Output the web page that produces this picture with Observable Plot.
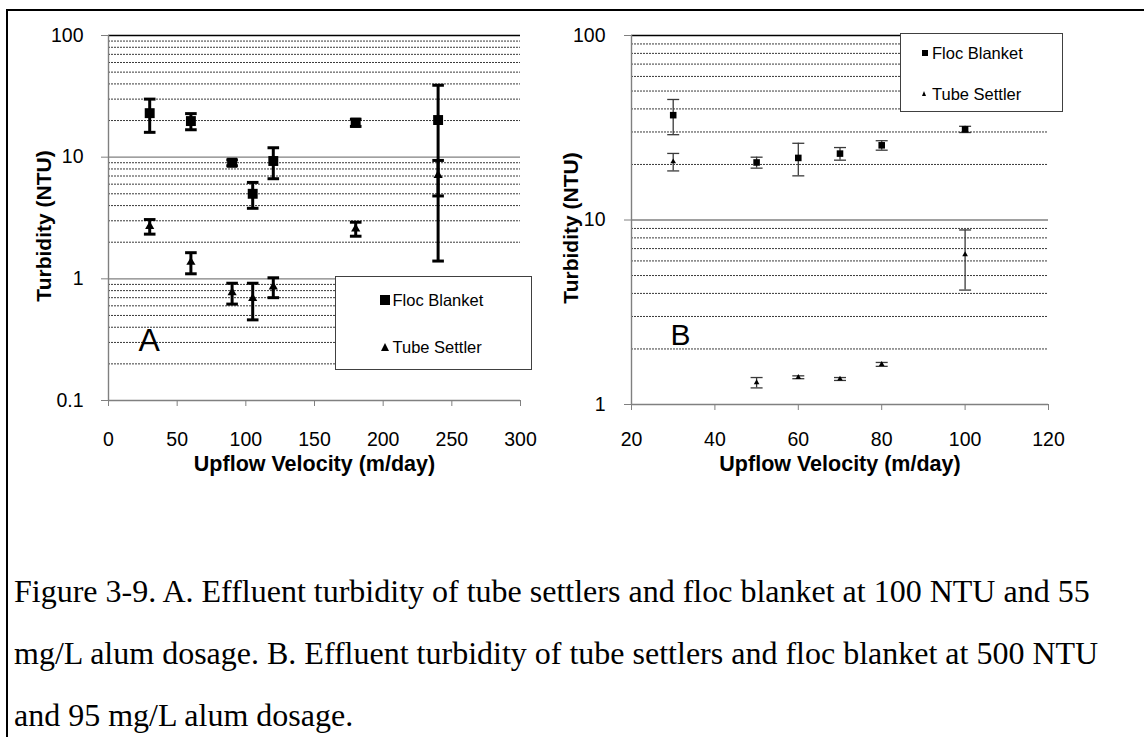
<!DOCTYPE html>
<html><head><meta charset="utf-8">
<script src="https://cdn.jsdelivr.net/npm/d3@7"></script>
<script src="https://cdn.jsdelivr.net/npm/@observablehq/plot@0.6"></script>
<style>
body{margin:0;background:#fff;}
#fig{position:relative;width:1144px;height:737px;overflow:hidden;background:#fff;font-family:"Liberation Sans",Arial,sans-serif;}
.abs{position:absolute;}
.legend{position:absolute;background:#fff;border:1px solid #404040;box-sizing:border-box;}
.lg{position:absolute;font-size:16.5px;line-height:16.5px;white-space:nowrap;color:#000;}
.sq{position:absolute;background:#000;}
.tri{position:absolute;width:0;height:0;border-style:solid;border-color:transparent transparent #000 transparent;}
.cap{position:absolute;left:14px;font-family:"Liberation Serif","Times New Roman",serif;font-size:32px;line-height:32px;white-space:nowrap;color:#000;}
</style></head><body><div id="fig"></div><script>
// ---------- data ----------
const velocityA = [30, 60, 90, 105, 120, 180, 240];
const flocA     = [23.0, 19.8, 9.0, 5.0, 9.3, 19.2, 20.2];
const flocErrA  = [7.0, 3.0, 0.5, 1.2, 2.65, 1.3, 18.8];
const tubeA     = [2.7, 1.37, 0.77, 0.69, 0.86, 2.58, 7.1];
const tubeErrA  = [0.37, 0.27, 0.15, 0.23, 0.16, 0.34, 2.3];

const velocityB = [30, 50, 60, 70, 80, 100];
const flocB     = [37.0, 20.5, 21.7, 22.9, 25.4, 31.0];
const flocErrB  = [8.0, 1.4, 4.35, 1.8, 1.5, 1.2];
const tubeB     = [20.7, 1.315, 1.405, 1.375, 1.65, 6.5];
const tubeErrB  = [2.25, 0.085, 0.025, 0.025, 0.04, 2.33];

const xTicksA = [0, 50, 100, 150, 200, 250, 300];
const yTicksA = [0.1, 1, 10, 100];
const minorA  = [0.2,0.3,0.4,0.5,0.6,0.7,0.8,0.9,2,3,4,5,6,7,8,9,20,30,40,50,60,70,80,90];
const xTicksB = [20, 40, 60, 80, 100, 120];
const yTicksB = [1, 10, 100];
const minorB  = [2,3,4,5,6,7,8,9,20,30,40,50,60,70,80,90];

const seriesNames = ["Floc Blanket", "Tube Settler"];
const xTitle = "Upflow Velocity (m/day)";
const yTitle = "Turbidity (NTU)";
const captionLines = [
  "Figure 3-9. A. Effluent turbidity of tube settlers and floc blanket at 100 NTU and 55",
  "mg/L alum dosage. B. Effluent turbidity of tube settlers and floc blanket at 500 NTU",
  "and 95 mg/L alum dosage."
];

// ---------- drawing ----------
const capSymbol = {draw(ctx, size){ const r = Math.sqrt(size/Math.PI); ctx.moveTo(-r,0); ctx.lineTo(r,0); }};
const rows = (xs, ys, es) => xs.map((x,i)=>({x, y:ys[i], e:es[i]}));

function panel(o){
  const F = rows(o.vel, o.floc, o.flocErr);
  const T = rows(o.vel, o.tube, o.tubeErr);
  const errMarks = (R) => [
    Plot.ruleX(R, {x:"x", y1:d=>d.y-d.e, y2:d=>d.y+d.e, stroke:o.errColor, strokeWidth:o.errWidth}),
    Plot.dot(R, {x:"x", y:d=>d.y+d.e, symbol:capSymbol, r:o.capR, fill:"none", stroke:o.errColor, strokeWidth:o.errWidth}),
    Plot.dot(R, {x:"x", y:d=>d.y-d.e, symbol:capSymbol, r:o.capR, fill:"none", stroke:o.errColor, strokeWidth:o.errWidth})
  ];
  return Plot.plot({
    width:o.width, height:o.height,
    marginLeft:o.ml, marginRight:o.mr, marginTop:o.mt, marginBottom:o.mb,
    x:{domain:o.xDomain},
    y:{type:"log", domain:o.yDomain},
    style:{fontFamily:"'Liberation Sans', Arial, sans-serif", fontSize:"19.5px", background:"transparent", overflow:"visible", color:"#000"},
    marks:[
      Plot.ruleY(o.minor, {stroke:"#3a3a3a", strokeWidth:1, strokeDasharray:"2,1"}),
      Plot.ruleY(o.major, {stroke:"#808080", strokeWidth:1.4}),
      Plot.ruleY([o.yDomain[1]], {stroke:"#000", strokeWidth:1.6}),
      Plot.ruleX([o.xDomain[0]], {stroke:"#808080", strokeWidth:1.4}),
      Plot.axisY({ticks:o.yTicks, tickSize:7, tickPadding:o.yPad, stroke:"#808080", tickFormat:d=>String(d), label:null}),
      Plot.axisX({ticks:o.xTicks, tickSize:6, tickPadding:o.xPad, stroke:"#808080", tickFormat:d=>String(d), label:null}),
      ...errMarks(F), ...errMarks(T),
      Plot.dot(F, {x:"x", y:"y", symbol:"square", r:o.sqR, fill:"#000", stroke:"none"}),
      Plot.dot(T, {x:"x", y:"y", symbol:"triangle", r:o.triR, fill:"#000", stroke:"none"}),
      Plot.text([yTitle], {text:d=>d, frameAnchor:"left", rotate:-90, dx:o.yTitleDx, dy:8, textAnchor:"middle", fontWeight:"bold", fontSize:21}),
      Plot.text([xTitle], {text:d=>d, frameAnchor:"bottom", dy:o.xTitleDy, textAnchor:"middle", fontWeight:"bold", fontSize:21.5}),
      Plot.text([o.letter], {text:d=>d, frameAnchor:"bottom-left", dx:o.letterDx, dy:o.letterDy, textAnchor:"start", fontSize:o.letterSize})
    ]
  });
}

const fig = document.getElementById("fig");

const svgA = panel({
  vel:velocityA, floc:flocA, flocErr:flocErrA, tube:tubeA, tubeErr:tubeErrA,
  width:572, height:480, ml:108, mr:52, mt:35, mb:80,
  xDomain:[0,300], yDomain:[0.1,100], xTicks:xTicksA, yTicks:yTicksA,
  minor:minorA, major:[0.1,1,10], yPad:18, xPad:26,
  errColor:"#000", errWidth:3, capR:5.8, sqR:5.6, triR:3.4,
  yTitleDx:-64, xTitleDy:70, letter:"A", letterDx:30, letterDy:-50, letterSize:32
});
svgA.style.position = "absolute"; svgA.style.left = "0px"; svgA.style.top = "0px";
fig.appendChild(svgA);

const svgB = panel({
  vel:velocityB, floc:flocB, flocErr:flocErrB, tube:tubeB, tubeErr:tubeErrB,
  width:572, height:480, ml:59, mr:96, mt:35, mb:76,
  xDomain:[20,120], yDomain:[1,100], xTicks:xTicksB, yTicks:yTicksB,
  minor:minorB, major:[1,10], yPad:19, xPad:22,
  errColor:"#3a3a3a", errWidth:1.3, capR:6, sqR:3.7, triR:2.1,
  yTitleDx:-60, xTitleDy:66, letter:"B", letterDx:39, letterDy:-60, letterSize:30
});
svgB.style.position = "absolute"; svgB.style.left = "572px"; svgB.style.top = "0px";
fig.appendChild(svgB);

// legends
function legend(box, items){
  const d = document.createElement("div");
  d.className = "legend";
  Object.assign(d.style, {left:box.l+"px", top:box.t+"px", width:(box.r-box.l)+"px", height:(box.b-box.t)+"px"});
  fig.appendChild(d);
  items.forEach(it=>{
    const m = document.createElement("div");
    if (it.shape === "sq"){
      m.className = "sq";
      Object.assign(m.style, {left:(it.mx-it.s/2)+"px", top:(it.cy-it.s/2)+"px", width:it.s+"px", height:it.s+"px"});
    } else {
      m.className = "tri";
      const h = it.s*0.95;
      m.style.borderWidth = `0 ${it.s/2}px ${h}px ${it.s/2}px`;
      Object.assign(m.style, {left:(it.mx-it.s/2)+"px", top:(it.cy-h/2)+"px"});
    }
    fig.appendChild(m);
    const t = document.createElement("div");
    t.className = "lg";
    t.textContent = it.label;
    Object.assign(t.style, {left:it.tx+"px", top:(it.cy-8.2)+"px"});
    fig.appendChild(t);
  });
}
legend({l:335, t:276, r:532, b:370}, [
  {shape:"sq", label:seriesNames[0], mx:385, tx:392.5, cy:300, s:10},
  {shape:"tri", label:seriesNames[1], mx:385, tx:392.5, cy:347, s:9}
]);
legend({l:900, t:33, r:1063, b:112}, [
  {shape:"sq", label:seriesNames[0], mx:925, tx:932, cy:53, s:6.5},
  {shape:"tri", label:seriesNames[1], mx:925, tx:932, cy:94, s:5.5}
]);

// caption
captionLines.forEach((line, i)=>{
  const c = document.createElement("div");
  c.className = "cap";
  c.textContent = line;
  c.style.top = (575 + i*62) + "px";
  fig.appendChild(c);
});

// frame lines
const frameTop = document.createElement("div");
frameTop.className = "abs";
Object.assign(frameTop.style, {left:"6px", top:"9px", width:"1138px", height:"2px", background:"#000"});
fig.appendChild(frameTop);
const frameLeft = document.createElement("div");
frameLeft.className = "abs";
Object.assign(frameLeft.style, {left:"6px", top:"9px", width:"2px", height:"728px", background:"#000"});
fig.appendChild(frameLeft);
</script></body></html>
